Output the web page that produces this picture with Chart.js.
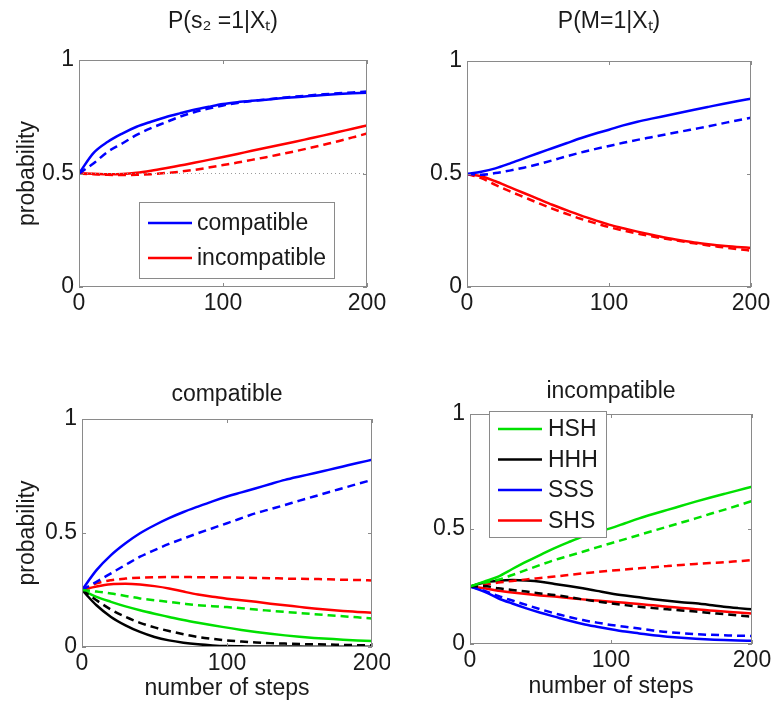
<!DOCTYPE html>
<html>
<head>
<meta charset="utf-8">
<script src="https://cdn.jsdelivr.net/npm/chart.js@4/dist/chart.umd.min.js"></script>
<style>
  body { margin: 0; background: #fff; }
  canvas { position: absolute; }
</style>
</head>
<body>
<canvas id="pS2" width="390" height="340" style="left:0;top:0"></canvas>
<canvas id="pM" width="383" height="340" style="left:390px;top:0"></canvas>
<canvas id="pComp" width="390" height="362" style="left:0;top:340px"></canvas>
<canvas id="pInc" width="383" height="362" style="left:390px;top:340px"></canvas>
<script>
// number of steps (x), one value every 10 steps
var steps = [0, 10, 20, 30, 40, 50, 60, 70, 80, 90, 100, 110, 120, 130, 140, 150, 160, 170, 180, 190, 200];
var xTicks = [0, 100, 200];
var yTicks = [0, 0.5, 1];

// P(s2 = 1 | Xt)
var s2Comp     = [0.5, 0.59, 0.64, 0.676, 0.706, 0.728, 0.748, 0.765, 0.781, 0.794, 0.806, 0.814, 0.82, 0.825, 0.831, 0.836, 0.841, 0.846, 0.85, 0.853, 0.856];
var s2CompDash = [0.5, 0.544, 0.596, 0.632, 0.67, 0.7, 0.725, 0.75, 0.77, 0.786, 0.8, 0.811, 0.819, 0.826, 0.833, 0.839, 0.844, 0.849, 0.853, 0.857, 0.861];
var s2Inc      = [0.5, 0.499, 0.497, 0.498, 0.503, 0.512, 0.523, 0.535, 0.547, 0.56, 0.573, 0.586, 0.6, 0.613, 0.627, 0.64, 0.654, 0.668, 0.683, 0.697, 0.712];
var s2IncDash  = [0.5, 0.497, 0.494, 0.493, 0.494, 0.497, 0.502, 0.508, 0.516, 0.526, 0.537, 0.548, 0.56, 0.572, 0.585, 0.598, 0.612, 0.627, 0.642, 0.659, 0.676];
var chance     = [0.5, 0.5];

// P(M = 1 | Xt)
var mComp     = [0.5, 0.51, 0.525, 0.546, 0.569, 0.592, 0.614, 0.636, 0.658, 0.678, 0.696, 0.715, 0.731, 0.745, 0.758, 0.771, 0.784, 0.797, 0.81, 0.822, 0.833];
var mCompDash = [0.5, 0.497, 0.504, 0.515, 0.528, 0.543, 0.56, 0.578, 0.595, 0.61, 0.624, 0.638, 0.651, 0.663, 0.675, 0.687, 0.699, 0.711, 0.724, 0.737, 0.749];
var mInc      = [0.5, 0.49, 0.468, 0.442, 0.416, 0.39, 0.364, 0.34, 0.317, 0.296, 0.276, 0.26, 0.245, 0.231, 0.218, 0.207, 0.197, 0.189, 0.182, 0.177, 0.173];
var mIncDash  = [0.5, 0.482, 0.452, 0.424, 0.398, 0.372, 0.347, 0.324, 0.302, 0.283, 0.265, 0.25, 0.236, 0.224, 0.213, 0.203, 0.193, 0.184, 0.176, 0.168, 0.161];

// compatible: HSH, HHH, SSS, SHS
var cHSH     = [0.25, 0.22, 0.198, 0.178, 0.161, 0.146, 0.132, 0.118, 0.106, 0.095, 0.085, 0.075, 0.066, 0.058, 0.051, 0.045, 0.04, 0.036, 0.032, 0.029, 0.026];
var cHSHDash = [0.25, 0.243, 0.235, 0.224, 0.213, 0.205, 0.198, 0.19, 0.183, 0.179, 0.175, 0.17, 0.164, 0.159, 0.154, 0.149, 0.144, 0.139, 0.135, 0.13, 0.125];
var cHHH     = [0.25, 0.183, 0.132, 0.095, 0.066, 0.044, 0.029, 0.019, 0.012, 0.007, 0.004, 0.003, 0.002, 0.002, 0.002, 0.002, 0.001, 0.001, 0.001, 0.001, 0.001];
var cHHHDash = [0.25, 0.205, 0.164, 0.132, 0.106, 0.086, 0.07, 0.056, 0.044, 0.036, 0.029, 0.024, 0.02, 0.017, 0.015, 0.013, 0.012, 0.011, 0.009, 0.008, 0.007];
var cSSS     = [0.25, 0.337, 0.403, 0.455, 0.499, 0.534, 0.565, 0.592, 0.616, 0.639, 0.66, 0.678, 0.696, 0.715, 0.733, 0.748, 0.762, 0.777, 0.792, 0.807, 0.821];
var cSSSDash = [0.25, 0.286, 0.323, 0.36, 0.396, 0.425, 0.452, 0.476, 0.499, 0.521, 0.543, 0.565, 0.587, 0.605, 0.623, 0.642, 0.66, 0.679, 0.697, 0.715, 0.733];
var cSHS     = [0.25, 0.265, 0.275, 0.277, 0.274, 0.267, 0.257, 0.243, 0.23, 0.22, 0.212, 0.205, 0.198, 0.19, 0.183, 0.176, 0.169, 0.163, 0.158, 0.154, 0.15];
var cSHSDash = [0.25, 0.279, 0.293, 0.3, 0.304, 0.306, 0.307, 0.307, 0.306, 0.306, 0.305, 0.304, 0.303, 0.302, 0.3, 0.299, 0.298, 0.297, 0.295, 0.294, 0.292];

// incompatible: HSH, HHH, SSS, SHS
var iHSH     = [0.25, 0.271, 0.293, 0.326, 0.358, 0.388, 0.417, 0.443, 0.467, 0.486, 0.504, 0.525, 0.546, 0.565, 0.583, 0.601, 0.619, 0.636, 0.652, 0.668, 0.684];
var iHSHDash = [0.25, 0.267, 0.279, 0.3, 0.322, 0.344, 0.365, 0.383, 0.401, 0.42, 0.438, 0.456, 0.474, 0.492, 0.51, 0.528, 0.546, 0.565, 0.583, 0.602, 0.622];
var iHHH     = [0.25, 0.267, 0.275, 0.278, 0.276, 0.271, 0.261, 0.252, 0.242, 0.231, 0.22, 0.211, 0.203, 0.195, 0.188, 0.182, 0.177, 0.17, 0.162, 0.156, 0.151];
var iHHHDash = [0.25, 0.252, 0.242, 0.235, 0.228, 0.22, 0.213, 0.204, 0.194, 0.185, 0.177, 0.169, 0.162, 0.156, 0.151, 0.146, 0.141, 0.135, 0.13, 0.124, 0.119];
var iSSS     = [0.25, 0.228, 0.199, 0.176, 0.155, 0.136, 0.119, 0.102, 0.087, 0.075, 0.064, 0.054, 0.046, 0.038, 0.032, 0.027, 0.023, 0.02, 0.017, 0.015, 0.014];
var iSSSDash = [0.25, 0.232, 0.209, 0.189, 0.17, 0.151, 0.133, 0.118, 0.104, 0.093, 0.083, 0.075, 0.067, 0.059, 0.052, 0.047, 0.043, 0.04, 0.038, 0.036, 0.035];
var iSHS     = [0.25, 0.242, 0.232, 0.224, 0.217, 0.211, 0.206, 0.2, 0.194, 0.189, 0.184, 0.179, 0.174, 0.168, 0.162, 0.157, 0.151, 0.146, 0.141, 0.137, 0.133];
var iSHSDash = [0.25, 0.257, 0.267, 0.274, 0.281, 0.287, 0.293, 0.3, 0.307, 0.313, 0.319, 0.324, 0.329, 0.334, 0.339, 0.344, 0.348, 0.352, 0.355, 0.36, 0.365];

var legendCond = ["compatible", "incompatible"];
var legendSeq = ["HSH", "HHH", "SSS", "SHS"];

var BLUE = "#0000ff", RED = "#ff0000", GREEN = "#00e000", BLACK = "#000000";
var TEXT = "#1a1a1a";
var FONT = "'Liberation Sans', Arial, sans-serif";
var FS = 23;

Chart.defaults.font.family = FONT;
Chart.defaults.color = TEXT;

function line(values, color, dashed) {
  return {
    data: steps.map(function (x, i) { return { x: x, y: values[i] }; }),
    borderColor: color,
    borderWidth: 2.5,
    borderDash: dashed ? [8, 5] : [],
    pointRadius: 0,
    cubicInterpolationMode: "monotone",
    fill: false
  };
}

// box + inward ticks like matlab axes
var framePlugin = {
  id: "frame",
  afterDatasetsDraw: function (chart) {
    var a = chart.chartArea, ctx = chart.ctx;
    var xs = chart.scales.x, ys = chart.scales.y;
    ctx.save();
    ctx.strokeStyle = "#8a8a8a";
    ctx.lineWidth = 1;
    ctx.strokeRect(a.left + 0.5, a.top + 0.5, a.right - a.left - 1, a.bottom - a.top - 1);
    ctx.beginPath();
    xTicks.forEach(function (v) {
      var px = Math.round(xs.getPixelForValue(v)) + 0.5;
      ctx.moveTo(px, a.bottom); ctx.lineTo(px, a.bottom - 4);
      ctx.moveTo(px, a.top); ctx.lineTo(px, a.top + 4);
    });
    yTicks.forEach(function (v) {
      var py = Math.round(ys.getPixelForValue(v)) + 0.5;
      ctx.moveTo(a.left, py); ctx.lineTo(a.left + 4, py);
      ctx.moveTo(a.right, py); ctx.lineTo(a.right - 4, py);
    });
    ctx.stroke();
    ctx.restore();
  }
};

// legend box drawn inside the axes
var boxLegendPlugin = {
  id: "boxLegend",
  afterDraw: function (chart, args, o) {
    if (!o.items) return;
    var ctx = chart.ctx;
    ctx.save();
    ctx.fillStyle = "#fff";
    ctx.fillRect(o.x, o.y, o.w, o.h);
    ctx.strokeStyle = "#8a8a8a";
    ctx.lineWidth = 1;
    ctx.strokeRect(o.x + 0.5, o.y + 0.5, o.w, o.h);
    ctx.font = FS + "px " + FONT;
    ctx.textBaseline = "middle";
    ctx.textAlign = "left";
    o.items.forEach(function (it, i) {
      var y = o.y + o.first + i * o.gap;
      ctx.strokeStyle = it.color;
      ctx.lineWidth = 2.5;
      ctx.beginPath();
      ctx.moveTo(o.x + o.lineX0, y);
      ctx.lineTo(o.x + o.lineX1, y);
      ctx.stroke();
      ctx.fillStyle = TEXT;
      ctx.fillText(it.label, o.x + o.textX, y + 1);
    });
    ctx.restore();
  }
};

function panel(id, cfg) {
  var p = cfg.plot;
  var cv = document.getElementById(id);
  var W = cv.width, H = cv.height;
  var half = FS * 1.2 / 2;
  return new Chart(cv, {
    type: "line",
    data: { datasets: cfg.datasets },
    plugins: [framePlugin, boxLegendPlugin],
    options: {
      responsive: false,
      animation: false,
      layout: { padding: { left: 0, top: 0, right: W - p.r, bottom: 0 } },
      plugins: {
        legend: { display: false },
        tooltip: { enabled: false },
        title: {
          display: true,
          text: cfg.title,
          fullSize: false,
          color: TEXT,
          font: { size: FS, weight: "normal", family: FONT },
          padding: { top: cfg.titleY - half, bottom: p.t - cfg.titleY - half }
        },
        boxLegend: cfg.legend || {}
      },
      scales: {
        x: {
          type: "linear",
          min: 0, max: 200,
          grid: { display: false, drawTicks: false },
          border: { display: false },
          ticks: { padding: 3, font: { size: FS }, color: TEXT, maxRotation: 0,
                   callback: function (v) { return String(v); } },
          afterBuildTicks: function (s) { s.ticks = xTicks.map(function (v) { return { value: v }; }); },
          afterFit: function (s) { s.height = H - p.b; s.paddingLeft = 0; s.paddingRight = 0; },
          title: {
            display: !!cfg.xTitle,
            text: cfg.xTitle || "",
            font: { size: FS },
            color: TEXT,
            padding: { top: 0, bottom: cfg.xTitlePad || 0 }
          }
        },
        y: {
          min: 0, max: 1,
          grid: { display: false, drawTicks: false },
          border: { display: false },
          ticks: { padding: 5, font: { size: FS }, color: TEXT,
                   callback: function (v) { return String(v); } },
          afterBuildTicks: function (s) { s.ticks = yTicks.map(function (v) { return { value: v }; }); },
          afterFit: function (s) { s.width = p.l; s.paddingTop = 0; s.paddingBottom = 0; },
          title: {
            display: !!cfg.yTitle,
            text: cfg.yTitle || "",
            font: { size: FS },
            color: TEXT,
            padding: { top: 14, bottom: 0 }
          }
        }
      }
    }
  });
}

var dotted = line(chance, "#9a9a9a", false);
dotted.data = [{ x: 0, y: chance[0] }, { x: 200, y: chance[1] }];
dotted.borderWidth = 1;
dotted.borderDash = [1, 3];

panel("pS2", {
  plot: { l: 79, r: 367, t: 60, b: 287 },
  title: "P(s\u2082 =1|X\u209C)",
  titleY: 22,
  yTitle: "probability",
  datasets: [
    dotted,
    line(s2CompDash, BLUE, true), line(s2IncDash, RED, true),
    line(s2Comp, BLUE, false), line(s2Inc, RED, false)
  ],
  legend: {
    x: 139, y: 202, w: 195, h: 76, first: 21, gap: 35,
    lineX0: 9, lineX1: 53, textX: 58,
    items: [{ label: legendCond[0], color: BLUE }, { label: legendCond[1], color: RED }]
  }
});

panel("pM", {
  plot: { l: 77, r: 361, t: 61, b: 287 },
  title: "P(M=1|X\u209C)",
  titleY: 22,
  datasets: [
    line(mCompDash, BLUE, true), line(mIncDash, RED, true),
    line(mComp, BLUE, false), line(mInc, RED, false)
  ]
});

panel("pComp", {
  plot: { l: 82, r: 372, t: 79, b: 307 },
  title: "compatible",
  titleY: 55,
  yTitle: "probability",
  xTitle: "number of steps",
  xTitlePad: 0,
  datasets: [
    line(cHSHDash, GREEN, true), line(cHHHDash, BLACK, true), line(cSSSDash, BLUE, true), line(cSHSDash, RED, true),
    line(cHSH, GREEN, false), line(cHHH, BLACK, false), line(cSSS, BLUE, false), line(cSHS, RED, false)
  ]
});

panel("pInc", {
  plot: { l: 80, r: 362, t: 74, b: 304 },
  title: "incompatible",
  titleY: 52,
  xTitle: "number of steps",
  xTitlePad: 2,
  datasets: [
    line(iHSHDash, GREEN, true), line(iHHHDash, BLACK, true), line(iSSSDash, BLUE, true), line(iSHSDash, RED, true),
    line(iHSH, GREEN, false), line(iHHH, BLACK, false), line(iSSS, BLUE, false), line(iSHS, RED, false)
  ],
  legend: {
    x: 99, y: 71, w: 117, h: 126, first: 18, gap: 30.5,
    lineX0: 9, lineX1: 53, textX: 59,
    items: [
      { label: legendSeq[0], color: GREEN }, { label: legendSeq[1], color: BLACK },
      { label: legendSeq[2], color: BLUE }, { label: legendSeq[3], color: RED }
    ]
  }
});
</script>
</body>
</html>
